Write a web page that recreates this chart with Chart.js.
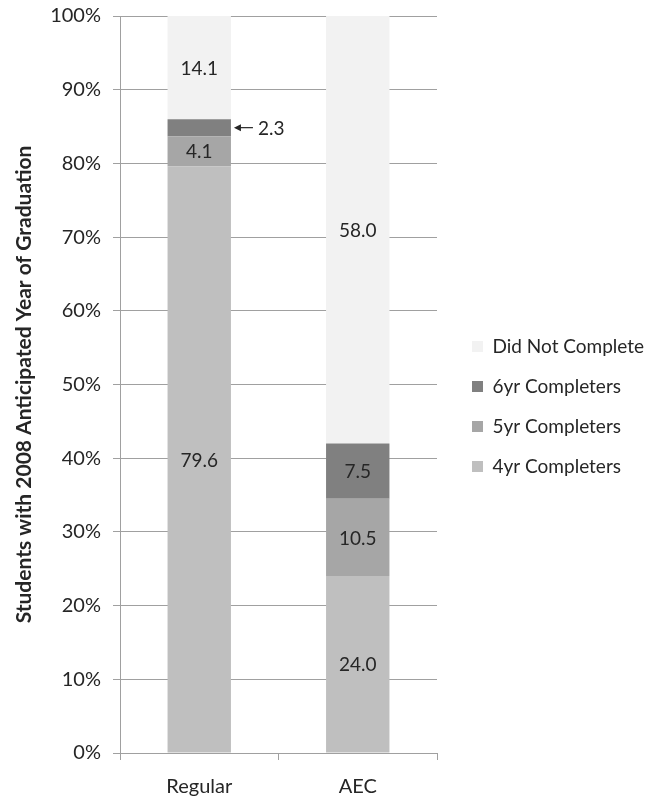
<!DOCTYPE html>
<html>
<head>
<meta charset="utf-8">
<script src="https://cdn.jsdelivr.net/npm/chart.js@4/dist/chart.umd.min.js"></script>
<style>
  html, body { margin: 0; padding: 0; background: #ffffff; }
  #wrap { width: 660px; height: 797px; }
</style>
</head>
<body>
<div id="wrap"><canvas id="chart" width="660" height="797"></canvas></div>
<script>
// Cohort categories and completion shares (percent of students)
const categories = ['Regular', 'AEC'];
const seriesNames = ['4yr Completers', '5yr Completers', '6yr Completers', 'Did Not Complete'];
const completers4yr = [79.6, 24.0];
const completers5yr = [4.1, 10.5];
const completers6yr = [2.3, 7.5];
const didNotComplete = [14.1, 58.0];
const yTicks = [0, 10, 20, 30, 40, 50, 60, 70, 80, 90, 100];

const seriesColors = ['#bfbfbf', '#a6a6a6', '#808080', '#f2f2f2'];
const seriesValues = [completers4yr, completers5yr, completers6yr, didNotComplete];

const FONT = 'Lato, Calibri, "Liberation Sans", sans-serif';
const TEXT = '#262626';
const LEGEND_WIDTH = 223;   // room reserved right of the plot for the legend
const LEGEND_INDENT = 14;   // extra gap between plot edge and legend swatches

// Writes each segment's value inside it; thin segments get an arrow label to the right
const valueLabels = {
  id: 'valueLabels',
  afterDatasetsDraw(chart) {
    const ctx = chart.ctx;
    ctx.save();
    ctx.font = '19px ' + FONT;
    ctx.fillStyle = TEXT;
    ctx.strokeStyle = TEXT;
    ctx.textBaseline = 'middle';
    chart.data.datasets.forEach((ds, i) => {
      const meta = chart.getDatasetMeta(i);
      meta.data.forEach((bar, j) => {
        const v = ds.data[j];
        const p = bar.getProps(['x', 'y', 'base', 'width'], true);
        const top = Math.max(p.y, chart.chartArea.top);
        const cy = (top + p.base) / 2;
        const label = v.toFixed(1);
        if (Math.abs(p.base - top) < 20) {
          const ax = p.x + p.width / 2 + 3;
          ctx.lineWidth = 1.2;
          ctx.beginPath();
          ctx.moveTo(ax + 2, cy);
          ctx.lineTo(ax + 19, cy);
          ctx.stroke();
          ctx.beginPath();
          ctx.moveTo(ax, cy);
          ctx.lineTo(ax + 7, cy - 3.5);
          ctx.lineTo(ax + 7, cy + 3.5);
          ctx.closePath();
          ctx.fill();
          ctx.textAlign = 'left';
          ctx.fillText(label, ax + 24, cy + 1);
        } else {
          ctx.textAlign = 'center';
          ctx.fillText(label, p.x, cy + 1);
        }
      });
    });
    ctx.restore();
  }
};

// Gives the right-hand legend a fixed width and nudges its swatches away from the plot
const legendSizing = {
  id: 'legendSizing',
  beforeLayout(chart) {
    const lg = chart.legend;
    if (lg && !lg.__fixedWidth) {
      const fit = lg.fit;
      lg.fit = function () { fit.call(this); this.width = LEGEND_WIDTH; };
      lg.__fixedWidth = true;
    }
  },
  afterLayout(chart) {
    const lg = chart.legend;
    if (lg) { lg.left += LEGEND_INDENT; lg.right += LEGEND_INDENT; }
  }
};

new Chart(document.getElementById('chart'), {
  type: 'bar',
  data: {
    labels: categories,
    datasets: seriesNames.map((name, i) => ({
      label: name,
      data: seriesValues[i],
      backgroundColor: seriesColors[i],
      borderWidth: 0,
      categoryPercentage: 0.8,
      barPercentage: 0.5
    }))
  },
  options: {
    responsive: false,
    animation: false,
    layout: { padding: { top: 16, left: 8, right: 0, bottom: 0 } },
    plugins: {
      tooltip: { enabled: false },
      legend: {
        position: 'right',
        align: 'center',
        reverse: true,
        labels: {
          boxWidth: 11,
          boxHeight: 11,
          padding: 21,
          color: TEXT,
          font: { family: FONT, size: 19 }
        }
      }
    },
    scales: {
      x: {
        stacked: true,
        border: { display: true, color: '#a0a0a0', width: 1 },
        grid: { display: true, offset: true, drawOnChartArea: false, drawTicks: true, tickLength: 7, color: '#a0a0a0' },
        ticks: { color: TEXT, padding: 15, font: { family: FONT, size: 20 } },
        afterFit(scale) { scale.height = 44; scale.paddingLeft = 0; scale.paddingRight = 0; }
      },
      y: {
        stacked: true,
        min: 0,
        max: 100,
        border: { display: true, color: '#a0a0a0', width: 1 },
        grid: { color: '#a0a0a0', tickLength: 7, drawTicks: true },
        afterBuildTicks(scale) { scale.ticks = yTicks.map(v => ({ value: v })); },
        ticks: {
          color: TEXT,
          padding: 12,
          font: { family: FONT, size: 20 },
          callback: v => v + '%'
        },
        title: {
          display: true,
          text: 'Students with 2008 Anticipated Year of Graduation',
          color: TEXT,
          padding: { top: 4, bottom: 0 },
          font: { family: FONT, size: 21, weight: 'bold' }
        },
        afterFit(scale) { scale.width = 112; scale.paddingTop = 0; scale.paddingBottom = 0; }
      }
    }
  },
  plugins: [valueLabels, legendSizing]
});
</script>
</body>
</html>
